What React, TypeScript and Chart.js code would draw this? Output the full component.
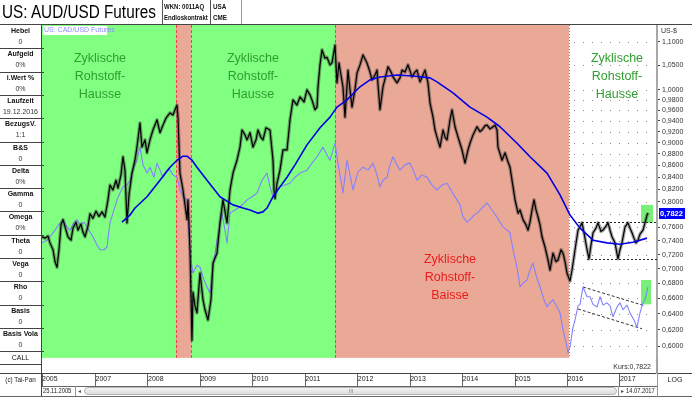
import React, { useEffect, useRef } from "react";
import { Chart, registerables } from "chart.js";

Chart.register(...registerables);

const SANS = "'Liberation Sans', Arial, Helvetica, sans-serif";

// ---------- axes ----------
const X_MIN = 2005.979; // 25.11.2005
const X_MAX = 2017.706;
const Y_MIN = 0.5686;
const Y_MAX = 1.1379;
const BAND_FLOOR = 0.586;

const xTickYears = [2005.979, 2007, 2008, 2009, 2010, 2011, 2012, 2013, 2014, 2015, 2016, 2017];
const xTickLabels = ["2005", "2007", "2008", "2009", "2010", "2011", "2012", "2013", "2014", "2015", "2016", "2017"];
const yTickValues = [1.1, 1.05, 1.0, 0.98, 0.96, 0.94, 0.92, 0.9, 0.88, 0.86, 0.84, 0.82, 0.8, 0.76, 0.74, 0.72, 0.7, 0.68, 0.66, 0.64, 0.62, 0.6];

// ---------- cycles ----------
const cycleFrom = [2005.979, 2008.534, 2008.82, 2011.566];
const cycleTo = [2008.534, 2008.82, 2011.566, 2016.028];
const cycleKind = ["hausse", "baisse", "hausse", "baisse"];

const cycleLabelYears = [2007.085, 2010.002, 2016.943, 2013.759];
const cycleLabelValues = [1.026, 1.026, 1.026, 0.688];
const cycleLabelKinds = ["hausse", "hausse", "hausse", "baisse"];
const cycleLabelLines = [
  ["Zyklische", "Rohstoff-", "Hausse"],
  ["Zyklische", "Rohstoff-", "Hausse"],
  ["Zyklische", "Rohstoff-", "Hausse"],
  ["Zyklische", "Rohstoff-", "Baisse"],
];

// ---------- series: [decimal year, value] ----------
const audUsd: [number, number][] = [
  [2005.979, 0.746], [2006.036, 0.744], [2006.093, 0.747], [2006.131, 0.737], [2006.189, 0.727],
  [2006.227, 0.71], [2006.265, 0.702], [2006.303, 0.727], [2006.341, 0.764], [2006.379, 0.772],
  [2006.418, 0.761], [2006.474, 0.746], [2006.532, 0.741], [2006.57, 0.759], [2006.627, 0.768],
  [2006.665, 0.756], [2006.722, 0.765], [2006.76, 0.753], [2006.799, 0.746], [2006.856, 0.762],
  [2006.894, 0.781], [2006.951, 0.774], [2007.008, 0.785], [2007.066, 0.777], [2007.123, 0.784],
  [2007.18, 0.776], [2007.237, 0.803], [2007.275, 0.827], [2007.332, 0.819], [2007.39, 0.835],
  [2007.428, 0.822], [2007.485, 0.844], [2007.523, 0.875], [2007.561, 0.852], [2007.6, 0.767],
  [2007.638, 0.811], [2007.695, 0.847], [2007.752, 0.869], [2007.79, 0.892], [2007.847, 0.936],
  [2007.885, 0.892], [2007.943, 0.905], [2007.981, 0.882], [2008.038, 0.905], [2008.095, 0.923],
  [2008.172, 0.942], [2008.229, 0.918], [2008.286, 0.932], [2008.343, 0.945], [2008.42, 0.955],
  [2008.477, 0.951], [2008.515, 0.961], [2008.553, 0.97], [2008.572, 0.947], [2008.61, 0.847],
  [2008.667, 0.819], [2008.706, 0.795], [2008.744, 0.772], [2008.763, 0.803], [2008.801, 0.727],
  [2008.839, 0.607], [2008.858, 0.668], [2008.896, 0.65], [2008.934, 0.641], [2008.992, 0.694],
  [2009.049, 0.658], [2009.087, 0.645], [2009.144, 0.632], [2009.201, 0.658], [2009.24, 0.708],
  [2009.316, 0.722], [2009.373, 0.767], [2009.43, 0.803], [2009.507, 0.767], [2009.564, 0.819],
  [2009.621, 0.847], [2009.697, 0.869], [2009.754, 0.892], [2009.793, 0.923], [2009.85, 0.914],
  [2009.888, 0.905], [2009.945, 0.918], [2010.002, 0.892], [2010.06, 0.905], [2010.098, 0.923],
  [2010.155, 0.909], [2010.193, 0.905], [2010.25, 0.927], [2010.326, 0.923], [2010.384, 0.869],
  [2010.403, 0.819], [2010.422, 0.805], [2010.46, 0.83], [2010.517, 0.852], [2010.574, 0.887],
  [2010.651, 0.887], [2010.708, 0.942], [2010.765, 0.98], [2010.841, 0.97], [2010.899, 0.986],
  [2010.975, 0.976], [2011.032, 1.0], [2011.089, 0.99], [2011.127, 0.98], [2011.185, 0.961],
  [2011.223, 0.966], [2011.242, 1.006], [2011.28, 1.051], [2011.318, 1.083], [2011.375, 1.065],
  [2011.413, 1.067], [2011.471, 1.051], [2011.509, 1.055], [2011.566, 1.093], [2011.604, 1.014],
  [2011.642, 1.055], [2011.68, 1.03], [2011.718, 1.006], [2011.757, 0.947], [2011.814, 1.04],
  [2011.852, 1.0], [2011.89, 0.966], [2011.947, 1.0], [2011.986, 1.034], [2012.043, 1.051],
  [2012.1, 1.072], [2012.176, 1.055], [2012.233, 1.036], [2012.271, 1.02], [2012.329, 1.03],
  [2012.367, 1.04], [2012.386, 1.01], [2012.424, 0.961], [2012.481, 1.006], [2012.539, 1.03],
  [2012.577, 1.047], [2012.634, 1.036], [2012.672, 1.026], [2012.748, 1.014], [2012.805, 1.024],
  [2012.844, 1.04], [2012.901, 1.036], [2012.958, 1.051], [2013.034, 1.026], [2013.091, 1.036],
  [2013.129, 1.04], [2013.187, 1.016], [2013.244, 1.03], [2013.282, 1.04], [2013.339, 1.014],
  [2013.378, 0.974], [2013.435, 0.947], [2013.473, 0.923], [2013.511, 0.91], [2013.568, 0.892],
  [2013.626, 0.923], [2013.664, 0.91], [2013.702, 0.905], [2013.759, 0.942], [2013.797, 0.961],
  [2013.854, 0.929], [2013.912, 0.91], [2013.988, 0.887], [2014.045, 0.864], [2014.102, 0.887],
  [2014.14, 0.899], [2014.198, 0.914], [2014.274, 0.929], [2014.331, 0.92], [2014.369, 0.923],
  [2014.427, 0.931], [2014.465, 0.932], [2014.522, 0.925], [2014.579, 0.929], [2014.617, 0.932],
  [2014.655, 0.923], [2014.674, 0.892], [2014.751, 0.869], [2014.808, 0.882], [2014.865, 0.866],
  [2014.903, 0.857], [2014.961, 0.824], [2014.999, 0.803], [2015.056, 0.782], [2015.094, 0.787],
  [2015.151, 0.772], [2015.208, 0.764], [2015.246, 0.756], [2015.284, 0.768], [2015.323, 0.787],
  [2015.361, 0.803], [2015.399, 0.787], [2015.437, 0.776], [2015.475, 0.764], [2015.513, 0.746],
  [2015.57, 0.731], [2015.628, 0.712], [2015.666, 0.698], [2015.723, 0.722], [2015.78, 0.71],
  [2015.818, 0.712], [2015.876, 0.727], [2015.914, 0.722], [2015.952, 0.71], [2015.99, 0.694],
  [2016.047, 0.683], [2016.085, 0.698], [2016.143, 0.727], [2016.2, 0.756], [2016.238, 0.761],
  [2016.276, 0.767], [2016.314, 0.752], [2016.372, 0.727], [2016.41, 0.714], [2016.448, 0.734],
  [2016.486, 0.752], [2016.543, 0.759], [2016.581, 0.767], [2016.638, 0.754], [2016.676, 0.756],
  [2016.734, 0.762], [2016.772, 0.767], [2016.81, 0.756], [2016.848, 0.746], [2016.905, 0.737],
  [2016.962, 0.714], [2017.0, 0.727], [2017.038, 0.737], [2017.096, 0.761], [2017.153, 0.767],
  [2017.191, 0.759], [2017.229, 0.752], [2017.267, 0.744], [2017.305, 0.737], [2017.344, 0.741],
  [2017.382, 0.75], [2017.439, 0.756], [2017.477, 0.767], [2017.516, 0.779], [2017.535, 0.7822],
];

const movingAvg: [number, number][] = [
  [2007.504, 0.768], [2007.657, 0.779], [2007.752, 0.79], [2007.981, 0.808], [2008.229, 0.835],
  [2008.42, 0.857], [2008.553, 0.869], [2008.667, 0.876], [2008.744, 0.876], [2008.839, 0.869],
  [2008.934, 0.857], [2009.125, 0.835], [2009.373, 0.808], [2009.621, 0.795], [2009.812, 0.79],
  [2009.945, 0.787], [2010.098, 0.782], [2010.193, 0.784], [2010.269, 0.79], [2010.384, 0.808],
  [2010.517, 0.824], [2010.651, 0.84], [2010.803, 0.861], [2011.032, 0.896], [2011.28, 0.927],
  [2011.471, 0.947], [2011.604, 0.966], [2011.795, 0.98], [2012.043, 1.006], [2012.233, 1.02],
  [2012.424, 1.026], [2012.748, 1.03], [2013.053, 1.028], [2013.378, 1.024], [2013.511, 1.016],
  [2013.816, 0.994], [2014.14, 0.966], [2014.465, 0.947], [2014.712, 0.929], [2015.037, 0.899],
  [2015.284, 0.875], [2015.609, 0.847], [2015.857, 0.811], [2016.047, 0.779], [2016.238, 0.759],
  [2016.486, 0.741], [2016.753, 0.737], [2017.0, 0.735], [2017.248, 0.738], [2017.516, 0.744],
];

const cadUsd: [number, number][] = [
  [2005.979, 0.737], [2006.074, 0.741], [2006.131, 0.746], [2006.227, 0.756], [2006.322, 0.767],
  [2006.379, 0.772], [2006.455, 0.761], [2006.513, 0.756], [2006.589, 0.768], [2006.646, 0.772],
  [2006.703, 0.764], [2006.78, 0.768], [2006.837, 0.761], [2006.894, 0.753], [2006.951, 0.746],
  [2007.027, 0.734], [2007.085, 0.727], [2007.161, 0.727], [2007.218, 0.731], [2007.275, 0.767],
  [2007.352, 0.787], [2007.409, 0.803], [2007.466, 0.814], [2007.523, 0.824], [2007.6, 0.827],
  [2007.657, 0.835], [2007.733, 0.857], [2007.79, 0.869], [2007.847, 0.892], [2007.905, 0.861],
  [2007.981, 0.847], [2008.038, 0.857], [2008.114, 0.84], [2008.172, 0.864], [2008.229, 0.852],
  [2008.286, 0.84], [2008.362, 0.852], [2008.42, 0.852], [2008.477, 0.844], [2008.553, 0.84],
  [2008.61, 0.819], [2008.667, 0.808], [2008.744, 0.803], [2008.801, 0.722], [2008.858, 0.694],
  [2008.934, 0.705], [2008.992, 0.702], [2009.068, 0.6845], [2009.125, 0.675], [2009.182, 0.667],
  [2009.24, 0.702], [2009.316, 0.741], [2009.373, 0.764], [2009.411, 0.782], [2009.468, 0.756],
  [2009.507, 0.737], [2009.564, 0.782], [2009.659, 0.787], [2009.754, 0.792], [2009.831, 0.798],
  [2009.888, 0.803], [2009.983, 0.808], [2010.079, 0.814], [2010.174, 0.835], [2010.269, 0.847],
  [2010.326, 0.824], [2010.384, 0.808], [2010.46, 0.819], [2010.517, 0.824], [2010.613, 0.827],
  [2010.708, 0.83], [2010.803, 0.84], [2010.899, 0.847], [2011.032, 0.852], [2011.127, 0.864],
  [2011.223, 0.875], [2011.337, 0.892], [2011.413, 0.878], [2011.471, 0.869], [2011.528, 0.887],
  [2011.566, 0.899], [2011.623, 0.864], [2011.718, 0.814], [2011.795, 0.869], [2011.852, 0.844],
  [2011.909, 0.819], [2012.005, 0.849], [2012.1, 0.857], [2012.195, 0.852], [2012.291, 0.864],
  [2012.367, 0.844], [2012.424, 0.824], [2012.481, 0.835], [2012.558, 0.84], [2012.615, 0.861],
  [2012.672, 0.875], [2012.748, 0.861], [2012.805, 0.852], [2012.901, 0.861], [2012.996, 0.864],
  [2013.072, 0.849], [2013.13, 0.835], [2013.225, 0.844], [2013.32, 0.84], [2013.416, 0.827],
  [2013.511, 0.819], [2013.606, 0.827], [2013.702, 0.83], [2013.797, 0.816], [2013.892, 0.803],
  [2013.95, 0.795], [2014.007, 0.776], [2014.083, 0.768], [2014.14, 0.772], [2014.217, 0.779],
  [2014.274, 0.782], [2014.369, 0.79], [2014.465, 0.798], [2014.56, 0.787], [2014.655, 0.776],
  [2014.712, 0.768], [2014.77, 0.761], [2014.846, 0.756], [2014.903, 0.752], [2014.961, 0.727],
  [2015.037, 0.702], [2015.094, 0.675], [2015.151, 0.68], [2015.227, 0.6845], [2015.284, 0.698],
  [2015.342, 0.708], [2015.399, 0.691], [2015.475, 0.675], [2015.551, 0.658], [2015.609, 0.6485],
  [2015.666, 0.654], [2015.723, 0.658], [2015.799, 0.6485], [2015.857, 0.641], [2015.914, 0.6195],
  [2015.971, 0.604], [2016.009, 0.592], [2016.047, 0.599], [2016.105, 0.623], [2016.143, 0.632],
  [2016.2, 0.65], [2016.238, 0.652], [2016.295, 0.675], [2016.372, 0.662], [2016.429, 0.662],
  [2016.486, 0.652], [2016.562, 0.6485], [2016.619, 0.662], [2016.677, 0.651], [2016.753, 0.654],
  [2016.81, 0.65], [2016.867, 0.636], [2016.943, 0.6485], [2017.0, 0.654], [2017.057, 0.645],
  [2017.134, 0.651], [2017.191, 0.641], [2017.267, 0.632], [2017.324, 0.623], [2017.382, 0.641],
  [2017.439, 0.654], [2017.477, 0.658], [2017.535, 0.675],
];

// ---------- chart annotations ----------
const lastPrice = 0.7822;
const rangeTopFrom = 2016.2;
const rangeTopLevel = 0.768;
const rangeBottomFrom = 2016.372;
const rangeBottomLevel = 0.714;
const cadChannelUpper: [number, number][] = [[2016.295, 0.675], [2017.477, 0.65]];
const cadChannelLower: [number, number][] = [[2016.2, 0.646], [2017.42, 0.621]];
// [x0, x1, yLow, yHigh]
const breakoutBoxes: [number, number, number, number][] = [
  [2017.401, 2017.63, 0.767, 0.795],
  [2017.401, 2017.592, 0.652, 0.6845],
];

// ---------- side panel ----------
const panelLabels = ["Hebel", "Aufgeld", "i.Wert %", "Laufzeit", "BezugsV.", "B&S", "Delta", "Gamma", "Omega", "Theta", "Vega", "Rho", "Basis", "Basis Vola"];
const panelValues = ["0", "0%", "0%", "19.12.2016", "1:1", "0", "0%", "0", "0%", "0", "0", "0", "0", "0"];

const fmt = (v: number) => v.toFixed(4).replace(".", ",");

const decorPlugin = {
  id: "decor",
  beforeDatasetsDraw(chart: any) {
    const { ctx, chartArea: ca, scales } = chart;
    const xs = scales.x;
    const ys = scales.y;
    const floor = ys.getPixelForValue(BAND_FLOOR);
    ctx.save();

    // dotted grid in the uncoloured area
    const gx = xs.getPixelForValue(cycleTo[cycleTo.length - 1]);
    ctx.strokeStyle = "#8a8a8a";
    ctx.lineWidth = 1;
    ctx.setLineDash([1, 8]);
    ctx.beginPath();
    for (const v of yTickValues.concat([0.78])) {
      const py = Math.round(ys.getPixelForValue(v)) + 0.5;
      ctx.moveTo(gx + 5, py);
      ctx.lineTo(ca.right - 2, py);
    }
    ctx.stroke();

    // cycle bands
    ctx.setLineDash([]);
    for (let i = 0; i < cycleFrom.length; i++) {
      const x0 = xs.getPixelForValue(cycleFrom[i]);
      const x1 = xs.getPixelForValue(cycleTo[i]);
      ctx.fillStyle = cycleKind[i] === "hausse" ? "#80ff80" : "#eaa896";
      ctx.fillRect(x0, ca.top, x1 - x0, floor - ca.top);
    }
    // band borders
    ctx.lineWidth = 1;
    for (let i = 1; i < cycleFrom.length; i++) {
      const px = Math.round(xs.getPixelForValue(cycleFrom[i])) + 0.5;
      ctx.strokeStyle = "#ff4040";
      ctx.setLineDash([3, 2]);
      ctx.beginPath();
      ctx.moveTo(px, ca.top);
      ctx.lineTo(px, floor);
      ctx.stroke();
    }
    const pxEnd = Math.round(xs.getPixelForValue(cycleTo[cycleTo.length - 1])) + 0.5;
    ctx.strokeStyle = "#4caa4c";
    ctx.setLineDash([1, 2]);
    ctx.beginPath();
    ctx.moveTo(pxEnd, ca.top);
    ctx.lineTo(pxEnd, floor);
    ctx.stroke();

    // breakout boxes
    ctx.setLineDash([]);
    ctx.fillStyle = "#78f078";
    for (const [a, b, lo, hi] of breakoutBoxes) {
      const x0 = xs.getPixelForValue(a);
      const x1 = xs.getPixelForValue(b);
      const y0 = ys.getPixelForValue(hi);
      const y1 = ys.getPixelForValue(lo);
      ctx.fillRect(x0, y0, x1 - x0, y1 - y0);
    }

    // range lines
    ctx.strokeStyle = "#222";
    ctx.setLineDash([2, 2]);
    ctx.beginPath();
    let py = Math.round(ys.getPixelForValue(rangeTopLevel)) + 0.5;
    ctx.moveTo(xs.getPixelForValue(rangeTopFrom), py);
    ctx.lineTo(ca.right, py);
    py = Math.round(ys.getPixelForValue(rangeBottomLevel)) + 0.5;
    ctx.moveTo(xs.getPixelForValue(rangeBottomFrom), py);
    ctx.lineTo(ca.right, py);
    ctx.stroke();

    // CAD channel
    ctx.strokeStyle = "#333";
    ctx.setLineDash([3, 2]);
    ctx.beginPath();
    for (const seg of [cadChannelUpper, cadChannelLower]) {
      ctx.moveTo(xs.getPixelForValue(seg[0][0]), ys.getPixelForValue(seg[0][1]));
      ctx.lineTo(xs.getPixelForValue(seg[1][0]), ys.getPixelForValue(seg[1][1]));
    }
    ctx.stroke();
    ctx.setLineDash([]);

    // cycle labels
    ctx.font = `12.5px ${SANS}`;
    ctx.textAlign = "center";
    ctx.textBaseline = "middle";
    for (let i = 0; i < cycleLabelYears.length; i++) {
      const cx = xs.getPixelForValue(cycleLabelYears[i]);
      const cy = ys.getPixelForValue(cycleLabelValues[i]);
      ctx.fillStyle = cycleLabelKinds[i] === "hausse" ? "#2f9e2f" : "#ec1c1c";
      cycleLabelLines[i].forEach((t, k) => ctx.fillText(t, cx, cy + (k - 1) * 18));
    }

    // series caption
    ctx.fillStyle = "#ffffff";
    ctx.fillRect(ca.left + 1, ca.top + 1, 64, 9);
    ctx.fillStyle = "#8c8cff";
    ctx.font = `7px ${SANS}`;
    ctx.textAlign = "left";
    ctx.fillText("US: CAD/USD Futures", ca.left + 2, ca.top + 5.5);
    ctx.restore();
  },
  afterDatasetsDraw(chart: any) {
    const { ctx, chartArea: ca, scales } = chart;
    const ys = scales.y;
    ctx.save();
    const py = Math.round(ys.getPixelForValue(lastPrice));
    ctx.fillStyle = "#0000ff";
    ctx.fillRect(ca.right + 2, py - 5, 26, 11);
    ctx.fillStyle = "#ffffff";
    ctx.font = `bold 7.5px ${SANS}`;
    ctx.textAlign = "left";
    ctx.textBaseline = "middle";
    ctx.fillText(fmt(lastPrice), ca.right + 3, py + 0.5);
    ctx.fillStyle = "#333";
    ctx.font = `7px ${SANS}`;
    ctx.textAlign = "right";
    ctx.fillText("Kurs:" + fmt(lastPrice), ca.right - 6, ca.bottom - 6);
    ctx.restore();
  },
};

const abs = (left: number, top: number, width: number, height: number, extra: any = {}) => ({
  position: "absolute" as const,
  left,
  top,
  width,
  height,
  ...extra,
});

function Line({ x, y, w, h, c = "#555" }: { x: number; y: number; w: number; h: number; c?: string }) {
  return <div style={abs(x, y, w, h, { background: c })} />;
}

function Txt({ x, y, w, h, children, size = 7, bold = false, align = "center", color = "#222", sx = 1, lh }: any) {
  const origin = align === "left" ? "left center" : align === "right" ? "right center" : "center center";
  return (
    <div
      style={abs(x, y, w, h, {
        fontFamily: SANS,
        fontSize: size,
        fontWeight: bold ? "bold" : "normal",
        textAlign: align,
        color,
        lineHeight: (lh ?? h) + "px",
        whiteSpace: "nowrap",
        transform: sx !== 1 ? `scaleX(${sx})` : undefined,
        transformOrigin: origin,
      })}
    >
      {children}
    </div>
  );
}

export default function App() {
  const ref = useRef<HTMLCanvasElement | null>(null);

  useEffect(() => {
    const canvas = ref.current;
    if (!canvas) return;
    const toPts = (s: [number, number][]) => s.map(([x, y]) => ({ x, y }));
    const chart = new Chart(canvas, {
      type: "line",
      data: {
        datasets: [
          { label: "MA", data: toPts(movingAvg), borderColor: "#0000e6", borderWidth: 1.6, pointRadius: 0 },
          { label: "AUD/USD", data: toPts(audUsd), borderColor: "#000000", borderWidth: 1.2, pointRadius: 0 },
          { label: "AUD/USD range", data: toPts(audUsd), borderColor: "rgba(60,60,60,0.45)", borderWidth: 3.5, pointRadius: 0 },
          { label: "US: CAD/USD Futures", data: toPts(cadUsd), borderColor: "#8282ff", borderWidth: 1.1, pointRadius: 0 },
        ],
      },
      options: {
        responsive: false,
        animation: false,
        devicePixelRatio: 1,
        events: [],
        layout: { padding: { left: 42, top: 25, right: 0, bottom: 0 } },
        plugins: { legend: { display: false }, tooltip: { enabled: false } },
        elements: { line: { tension: 0, borderJoinStyle: "round" } },
        scales: {
          x: {
            type: "linear",
            position: "bottom",
            min: X_MIN,
            max: X_MAX,
            afterBuildTicks: (axis: any) => {
              axis.ticks = xTickYears.map((v) => ({ value: v }));
            },
            afterFit: (axis: any) => {
              axis.height = 24;
            },
            ticks: {
              align: "start",
              padding: -11,
              autoSkip: false,
              maxRotation: 0,
              minRotation: 0,
              color: "#222",
              font: { family: SANS, size: 7 },
              callback: (_v: any, i: number) => xTickLabels[i],
            },
            grid: { drawOnChartArea: false, drawTicks: true, tickLength: 13, tickColor: "#666", color: "#666" },
            border: { display: true, color: "#444", width: 1 },
          },
          y: {
            type: "logarithmic",
            position: "right",
            min: Y_MIN,
            max: Y_MAX,
            afterBuildTicks: (axis: any) => {
              axis.ticks = yTickValues.slice().sort((a, b) => a - b).map((v) => ({ value: v }));
            },
            afterFit: (axis: any) => {
              axis.width = 35;
            },
            ticks: {
              autoSkip: false,
              padding: 2,
              color: "#333",
              font: { family: SANS, size: 7 },
              callback: (v: any) => fmt(Number(v)),
            },
            grid: { drawOnChartArea: false, drawTicks: true, tickLength: 3, tickColor: "#444" },
            border: { display: true, color: "#a8a8a8", width: 2 },
          },
        },
      },
      plugins: [decorPlugin],
    } as any);
    return () => chart.destroy();
  }, []);

  const rowH = 23.3;
  const top0 = 25;

  return (
    <div style={abs(0, 0, 692, 397, { position: "fixed", background: "#fff", overflow: "hidden" })}>
      <canvas ref={ref} width={692} height={397} style={abs(0, 0, 692, 397, { display: "block" })} />

      {/* header */}
      <Txt x={2} y={0} w={190} h={24} size={18} sx={0.85} align="left" color="#000">US: AUD/USD Futures</Txt>
      <Line x={162} y={0} w={1} h={24} />
      <Line x={210} y={0} w={1} h={24} />
      <Line x={241} y={0} w={1} h={24} c="#999" />
      <Txt x={164} y={1} w={60} h={11} size={7} bold sx={0.86} align="left" color="#111">WKN: 0011AQ</Txt>
      <Txt x={164} y={12} w={60} h={11} size={7} bold sx={0.86} align="left" color="#111">Endloskontrakt</Txt>
      <Txt x={213} y={1} w={28} h={11} size={7} bold sx={0.9} align="left" color="#111">USA</Txt>
      <Txt x={213} y={12} w={28} h={11} size={7} bold sx={0.9} align="left" color="#111">CME</Txt>
      <Line x={0} y={24} w={692} h={1} c="#444" />
      <Txt x={661} y={26} w={30} h={10} size={7} align="left" color="#333">US-$</Txt>

      {/* left panel */}
      <Line x={41} y={25} w={1} h={372} c="#444" />
      {panelLabels.map((lab, i) => {
        const t = top0 + i * rowH;
        return (
          <React.Fragment key={lab}>
            {i > 0 && <Line x={0} y={Math.round(t)} w={44} h={1} c="#444" />}
            <Txt x={0} y={Math.round(t) + 1} w={41} h={10} size={7} bold color="#111">{lab}</Txt>
            <Txt x={0} y={Math.round(t) + 12} w={41} h={10} size={7} color="#333">{panelValues[i]}</Txt>
          </React.Fragment>
        );
      })}
      <Line x={0} y={Math.round(top0 + 14 * rowH)} w={44} h={1} c="#444" />
      <Txt x={0} y={Math.round(top0 + 14 * rowH) + 1} w={41} h={11} size={7} color="#111">CALL</Txt>
      <Line x={0} y={364} w={41} h={1} c="#444" />
      <Line x={0} y={373} w={42} h={1} c="#444" />
      <Txt x={0} y={373} w={41} h={14} size={7} sx={0.9} color="#222">(c) Tai-Pan</Txt>

      {/* bottom rows */}
      <Line x={42} y={386} w={615} h={1} c="#666" />
      <Line x={0} y={396} w={692} h={1} c="#666" />
      <Line x={657} y={373} w={35} h={1} c="#444" />
      <Line x={657} y={358} w={1} h={39} c="#999" />
      <Txt x={658} y={373} w={34} h={14} size={7} color="#222">LOG</Txt>
      <Txt x={43} y={386} w={40} h={10} size={7} sx={0.82} align="left" color="#222">25.11.2005</Txt>
      <Line x={75} y={386} w={1} h={10} c="#999" />
      <Txt x={76} y={386} w={7} h={10} size={6} color="#555">◂</Txt>
      <div style={abs(84, 387, 533, 8, { background: "linear-gradient(#f4f4f4, #dcdcdc)", border: "1px solid #b4b4b4", borderRadius: 4, boxSizing: "border-box" })} />
      <Txt x={345} y={386} w={12} h={10} size={6} color="#888">III</Txt>
      <Line x={618} y={386} w={1} h={10} c="#999" />
      <Txt x={619} y={386} w={7} h={10} size={6} color="#555">▸</Txt>
      <Txt x={626} y={386} w={40} h={10} size={7} sx={0.82} align="left" color="#222">14.07.2017</Txt>
    </div>
  );
}
